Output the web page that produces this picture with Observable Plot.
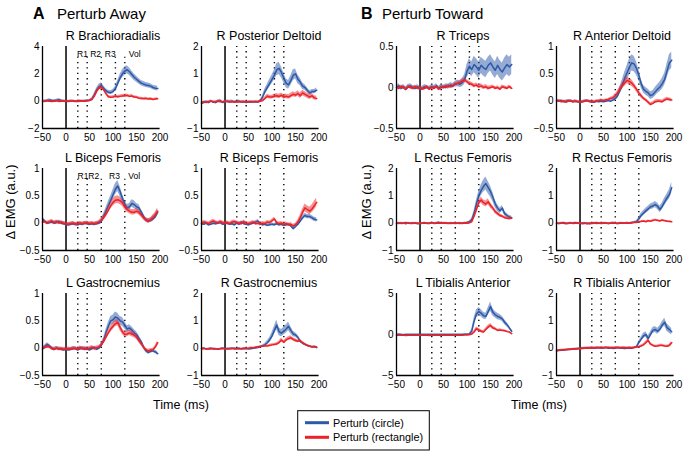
<!DOCTYPE html>
<html><head><meta charset="utf-8">
<script src="https://cdn.jsdelivr.net/npm/d3@7"></script>
<script src="https://cdn.jsdelivr.net/npm/@observablehq/plot@0.6"></script>
<style>
body{margin:0;background:#fff;font-family:"Liberation Sans",Arial,sans-serif;}
#chart{position:relative;width:686px;height:451px;overflow:hidden;background:#fff;}
#chart svg{position:absolute;}
</style></head><body><div id="chart"></div>
<script>
const timeMs = [-50,-45,-40,-35,-30,-25,-20,-15,-10,-5,0,5,10,15,20,25,30,35,40,45,50,55,60,65,70,75,80,85,90,95,100,105,110,115,120,125,130,135,140,145,150,155,160,165,170,175,180,185,190,195];
const muscles = ["R Brachioradialis","R Posterior Deltoid","R Triceps","R Anterior Deltoid","L Biceps Femoris","R Biceps Femoris","L Rectus Femoris","R Rectus Femoris","L Gastrocnemius","R Gastrocnemius","L Tibialis Anterior","R Tibialis Anterior"];
const yDomains = [[-2,4],[-1,2],[-0.5,0.5],[-0.5,1],[-0.5,1],[-0.5,1],[-1,2],[-1,2],[-0.5,1],[-1,2],[-5,5],[-1,2]];
const yTicks = [[-2,0,2,4],[-1,0,1,2],[-0.5,0,0.5],[-0.5,0,0.5,1],[-0.5,0,0.5,1],[-0.5,0,0.5,1],[-1,0,1,2],[-1,0,1,2],[-0.5,0,0.5,1],[-1,0,1,2],[-5,0,5],[-1,0,1,2]];
const xTicks = [-50,0,50,100,150,200];
const epochRow1 = [25,45,75,105,125];
const epochRow23 = [25,45,75,125];
const epochLabels = ["R1","R2","R3","Vol"];
const epochLabelX1 = [35,63,94,146];
const epochLabelX2 = [36,59,103,145];
const seriesNames = ["Perturb (circle)","Perturb (rectangle)"];
const seriesColors = ["#2c58a8","#ec2229"];

// R Brachioradialis
const brBlue = [0,0.02,0.05,0.08,0.05,0.03,0.06,0.1,0.04,0, -0.02,0,0.02,0,-0.02,0,0.03,0,0.02,0.03, 0.05,0.15,0.45,0.8,1.05,1.15,0.95,0.75,0.65,0.62, 0.7,0.9,1.3,1.7,2.0,2.2,2.3,2.15,1.95,1.75, 1.6,1.45,1.32,1.25,1.18,1.15,1.1,1.0,0.95,0.92];
const brBlueSem = [0.08,0.07,0.08,0.09,0.08,0.07,0.08,0.09,0.08,0.07, 0.06,0.06,0.07,0.06,0.06,0.07,0.06,0.06,0.07,0.07, 0.07,0.08,0.12,0.15,0.18,0.2,0.18,0.15,0.14,0.14, 0.15,0.18,0.22,0.25,0.28,0.3,0.3,0.28,0.26,0.24, 0.22,0.2,0.2,0.19,0.18,0.18,0.18,0.17,0.17,0.17];
const brRed = [0,-0.02,0.02,0,-0.03,0,0.02,-0.02,0,0.02, 0,-0.02,0,0.02,0,-0.02,0,0.02,0,0.03, 0.05,0.12,0.35,0.7,0.95,1.0,0.85,0.55,0.32,0.28, 0.3,0.35,0.32,0.35,0.38,0.4,0.42,0.35,0.38,0.3, 0.28,0.22,0.2,0.18,0.2,0.15,0.18,0.12,0.15,0.18];
const brRedSem = [0.06,0.06,0.07,0.06,0.06,0.07,0.06,0.06,0.07,0.06, 0.06,0.05,0.06,0.06,0.05,0.06,0.06,0.05,0.06,0.06, 0.06,0.07,0.09,0.11,0.12,0.12,0.11,0.1,0.09,0.09, 0.09,0.1,0.1,0.1,0.1,0.11,0.11,0.1,0.1,0.1, 0.09,0.09,0.09,0.08,0.08,0.08,0.08,0.08,0.08,0.08];
// R Posterior Deltoid
const pdBlue = [-0.08,-0.05,-0.02,-0.05,0,-0.03,-0.05,0,0.02,-0.05, -0.03,0,-0.02,0,-0.03,-0.02,0,-0.03,-0.02,-0.05, -0.03,-0.02,-0.03,-0.02,-0.03,0,0.15,0.35,0.5,0.65, 0.8,0.95,1.15,1.2,1.05,0.85,0.65,0.6,0.75,0.95, 1.0,0.8,0.7,0.55,0.5,0.4,0.3,0.35,0.35,0.4];
const pdBlueSem = [0.04,0.05,0.04,0.05,0.04,0.04,0.05,0.04,0.05,0.04, 0.04,0.04,0.05,0.04,0.04,0.05,0.04,0.04,0.05,0.04, 0.04,0.04,0.04,0.04,0.04,0.05,0.07,0.1,0.12,0.14, 0.16,0.18,0.22,0.22,0.2,0.18,0.16,0.16,0.18,0.2, 0.18,0.16,0.14,0.12,0.1,0.09,0.08,0.08,0.08,0.08];
const pdRed = [-0.05,-0.03,-0.05,-0.02,0,-0.03,-0.02,0,-0.02,-0.03, 0,-0.02,-0.03,-0.02,-0.03,-0.02,-0.03,-0.02,-0.02,-0.03, -0.02,-0.03,-0.02,-0.02,-0.02,0,0.02,0.1,0.18,0.15, 0.15,0.18,0.2,0.17,0.22,0.15,0.18,0.15,0.2,0.25, 0.22,0.28,0.2,0.3,0.25,0.2,0.15,0.2,0.12,0.1];
const pdRedSem = [0.03,0.03,0.04,0.03,0.03,0.04,0.03,0.03,0.04,0.03, 0.03,0.03,0.03,0.03,0.03,0.03,0.03,0.03,0.03,0.03, 0.03,0.03,0.03,0.03,0.03,0.04,0.05,0.06,0.07,0.07, 0.07,0.07,0.08,0.08,0.08,0.08,0.08,0.08,0.09,0.09, 0.09,0.1,0.1,0.1,0.1,0.09,0.09,0.09,0.08,0.08];
// R Triceps
const triBlue = [0,0.02,-0.01,0.01,-0.02,0.01,0.02,0,-0.01,0.01, -0.02,-0.01,0.01,0,-0.01,0.01,0,0.02,-0.01,0.01, 0,0.02,0.01,0.03,0.02,0.04,0.05,0.04,0.06,0.1, 0.2,0.26,0.22,0.28,0.25,0.21,0.27,0.24,0.22,0.27, 0.3,0.25,0.21,0.27,0.22,0.19,0.24,0.28,0.25,0.28];
const triBlueSem = [0.025,0.025,0.025,0.025,0.025,0.025,0.025,0.025,0.025,0.025, 0.025,0.025,0.025,0.025,0.025,0.025,0.025,0.025,0.025,0.025, 0.025,0.025,0.03,0.03,0.03,0.035,0.04,0.04,0.05,0.06, 0.08,0.09,0.09,0.1,0.1,0.1,0.1,0.1,0.1,0.1, 0.1,0.1,0.1,0.11,0.11,0.11,0.12,0.12,0.12,0.12];
const triRed = [0,-0.01,0.01,0,-0.02,0.01,0,-0.01,0.01,-0.01, 0,-0.02,-0.01,0.01,-0.02,0,-0.01,0.01,-0.02,0, 0.01,0,0.02,0.01,0.02,0.04,0.05,0.06,0.08,0.09, 0.07,0.05,0.04,0.02,0.03,0.01,0.02,0,0.01,-0.01, 0,0.01,-0.01,0,-0.02,0.01,0,-0.01,0.01,-0.01];
const triRedSem = [0.02,0.02,0.02,0.02,0.02,0.02,0.02,0.02,0.02,0.02, 0.02,0.02,0.02,0.02,0.02,0.02,0.02,0.02,0.02,0.02, 0.02,0.02,0.02,0.02,0.02,0.02,0.02,0.025,0.025,0.025, 0.025,0.025,0.025,0.025,0.025,0.025,0.025,0.025,0.025,0.025, 0.02,0.02,0.02,0.02,0.02,0.02,0.02,0.02,0.02,0.02];
// R Anterior Deltoid
const adBlue = [0.01,0,0.01,-0.01,0,0.01,0,-0.01,0,-0.01, -0.02,-0.01,0,0.01,-0.01,0,-0.02,0,-0.01,0, -0.01,0,0.01,0,0.02,0.05,0.1,0.2,0.3,0.42, 0.52,0.62,0.7,0.68,0.6,0.48,0.32,0.22,0.18,0.15, 0.1,0.12,0.17,0.22,0.26,0.32,0.4,0.55,0.7,0.75];
const adBlueSem = [0.02,0.02,0.02,0.02,0.02,0.02,0.02,0.02,0.02,0.02, 0.02,0.02,0.02,0.02,0.02,0.02,0.02,0.02,0.02,0.02, 0.02,0.02,0.02,0.02,0.03,0.04,0.05,0.07,0.09,0.11, 0.13,0.15,0.15,0.14,0.12,0.1,0.08,0.07,0.07,0.07, 0.07,0.07,0.08,0.08,0.09,0.1,0.11,0.13,0.15,0.15];
const adRed = [0,0.01,-0.01,0,-0.02,0,0.01,-0.01,0,-0.01, -0.02,-0.01,0,0.01,0,-0.02,-0.01,0,0.01,0.02, 0.01,0.02,0.03,0.05,0.06,0.1,0.15,0.22,0.28,0.33, 0.38,0.36,0.33,0.28,0.22,0.15,0.1,0.05,0.02,-0.02, -0.06,-0.04,-0.01,0,0,-0.01,0.02,0.04,0.03,0.02];
const adRedSem = [0.02,0.02,0.02,0.02,0.02,0.02,0.02,0.02,0.02,0.02, 0.02,0.02,0.02,0.02,0.02,0.02,0.02,0.02,0.02,0.02, 0.02,0.02,0.02,0.02,0.03,0.03,0.04,0.05,0.05,0.06, 0.06,0.06,0.06,0.05,0.05,0.04,0.04,0.03,0.03,0.03, 0.03,0.03,0.03,0.03,0.03,0.03,0.03,0.03,0.03,0.03];
// L Biceps Femoris
const lbfBlue = [0.08,0.03,0,0.01,0.02,0,0.01,0.03,0,-0.01, -0.02,-0.03,-0.02,-0.01,-0.02,-0.03,-0.01,-0.02,0,-0.01, -0.02,-0.01,-0.02,-0.01,0,0.03,0.12,0.22,0.32,0.42, 0.52,0.62,0.68,0.58,0.45,0.35,0.28,0.3,0.36,0.34, 0.3,0.28,0.2,0.12,0.06,0.04,0.05,0.08,0.12,0.2];
const lbfBlueSem = [0.04,0.03,0.03,0.03,0.03,0.03,0.03,0.03,0.03,0.03, 0.03,0.03,0.03,0.03,0.03,0.03,0.03,0.03,0.03,0.03, 0.03,0.03,0.03,0.03,0.03,0.04,0.05,0.06,0.07,0.08, 0.09,0.1,0.1,0.09,0.08,0.07,0.06,0.06,0.07,0.07, 0.06,0.06,0.05,0.05,0.04,0.04,0.04,0.05,0.05,0.05];
const lbfRed = [0.02,0.03,0,0.02,0.04,0.01,0.03,0,0.02,0, -0.01,-0.02,-0.01,0,-0.02,-0.01,0,-0.01,0,0.01, -0.01,0,-0.01,0,0.02,0.05,0.1,0.16,0.24,0.32, 0.38,0.42,0.43,0.41,0.37,0.3,0.25,0.22,0.2,0.2, 0.22,0.2,0.15,0.1,0.06,0.04,0.06,0.1,0.15,0.22];
const lbfRedSem = [0.03,0.03,0.03,0.03,0.03,0.03,0.03,0.03,0.03,0.03, 0.03,0.03,0.03,0.03,0.03,0.03,0.03,0.03,0.03,0.03, 0.03,0.03,0.03,0.03,0.03,0.04,0.05,0.05,0.06,0.06, 0.07,0.07,0.07,0.07,0.06,0.06,0.05,0.05,0.05,0.05, 0.05,0.05,0.04,0.04,0.04,0.04,0.04,0.05,0.05,0.06];
// R Biceps Femoris
const rbfBlue = [-0.01,-0.02,0,-0.03,-0.02,0,-0.01,0,0.01,-0.02, -0.01,0,-0.02,-0.01,-0.03,0,-0.02,0.02,-0.01,-0.02, -0.03,-0.01,0,0.02,0.04,-0.01,-0.03,-0.02,-0.04,-0.03, -0.02,-0.03,-0.01,-0.03,-0.02,-0.04,-0.03,-0.02,-0.05,-0.1, -0.06,-0.02,0.04,0.1,0.14,0.12,0.12,0.1,0.07,0.06];
const rbfBlueSem = [0.025,0.025,0.025,0.025,0.025,0.025,0.025,0.025,0.025,0.025, 0.025,0.025,0.025,0.025,0.025,0.025,0.025,0.025,0.025,0.025, 0.025,0.025,0.025,0.025,0.025,0.025,0.025,0.025,0.025,0.025, 0.025,0.025,0.025,0.025,0.025,0.025,0.025,0.025,0.025,0.025, 0.03,0.03,0.035,0.04,0.04,0.04,0.04,0.04,0.04,0.04];
const rbfRed = [0,0.02,0.01,-0.01,0.02,0.04,0.02,0,0.03,0.01, 0,0.01,-0.01,0.02,0.03,0.01,0,-0.01,0.03,0, -0.01,0,0.02,-0.01,0,-0.02,0,-0.01,0.02,0.01, 0.04,0.08,0.01,-0.01,0,-0.02,-0.01,-0.03,-0.02,-0.05, -0.03,0.02,0.1,0.2,0.28,0.25,0.22,0.26,0.32,0.38];
const rbfRedSem = [0.03,0.03,0.03,0.03,0.03,0.03,0.03,0.03,0.03,0.03, 0.03,0.03,0.03,0.03,0.03,0.03,0.03,0.03,0.03,0.03, 0.03,0.03,0.03,0.03,0.03,0.03,0.03,0.03,0.03,0.03, 0.03,0.03,0.03,0.03,0.03,0.03,0.03,0.03,0.03,0.03, 0.03,0.04,0.05,0.06,0.07,0.07,0.07,0.07,0.08,0.08];
// L Rectus Femoris
const lrfBlue = [0,0.01,-0.01,0,0.02,0,-0.01,0.01,0,-0.02, -0.01,0,0.01,0,-0.01,0.02,0,0.01,0.03,0, 0.01,0,-0.01,0.01,0,-0.01,0,0.01,-0.01,0.01, 0.02,0.05,0.12,0.35,0.7,1.0,1.2,1.35,1.45,1.3, 1.15,0.95,0.7,0.55,0.45,0.55,0.35,0.28,0.22,0.2];
const lrfBlueSem = [0.02,0.02,0.02,0.02,0.02,0.02,0.02,0.02,0.02,0.02, 0.02,0.02,0.02,0.02,0.02,0.02,0.02,0.02,0.02,0.02, 0.02,0.02,0.02,0.02,0.02,0.02,0.02,0.02,0.02,0.02, 0.02,0.03,0.05,0.1,0.14,0.17,0.2,0.22,0.24,0.22, 0.2,0.17,0.14,0.12,0.1,0.1,0.08,0.07,0.06,0.06];
const lrfRed = [0,-0.01,0.01,0,-0.02,0.01,0,-0.01,0.01,0, -0.01,0,0.01,-0.01,0,0.01,-0.01,0,0.01,0, 0,0.01,0,-0.01,0,0.01,0,-0.01,0,0.01, 0,0.01,0.05,0.25,0.5,0.75,0.85,0.75,0.7,0.78, 0.65,0.55,0.42,0.35,0.28,0.25,0.2,0.18,0.17,0.18];
const lrfRedSem = [0.02,0.02,0.02,0.02,0.02,0.02,0.02,0.02,0.02,0.02, 0.02,0.02,0.02,0.02,0.02,0.02,0.02,0.02,0.02,0.02, 0.02,0.02,0.02,0.02,0.02,0.02,0.02,0.02,0.02,0.02, 0.02,0.02,0.03,0.05,0.08,0.1,0.11,0.11,0.11,0.11, 0.1,0.09,0.08,0.07,0.06,0.05,0.05,0.05,0.05,0.05];
// R Rectus Femoris
const rrfBlue = [0.01,-0.01,0,0.02,0,-0.01,0.01,0,0.02,0, -0.01,0,0.01,-0.02,0,-0.01,0,0.02,0,-0.01, 0,0.01,-0.01,0,0.02,0,-0.01,0,0.01,0, 0.01,0,0.02,0.03,0.05,0.15,0.28,0.36,0.45,0.52, 0.6,0.63,0.68,0.62,0.5,0.62,0.78,0.92,1.05,1.3];
const rrfBlueSem = [0.02,0.02,0.02,0.02,0.02,0.02,0.02,0.02,0.02,0.02, 0.02,0.02,0.02,0.02,0.02,0.02,0.02,0.02,0.02,0.02, 0.02,0.02,0.02,0.02,0.02,0.02,0.02,0.02,0.02,0.02, 0.02,0.02,0.02,0.03,0.04,0.06,0.08,0.09,0.1,0.1, 0.1,0.11,0.11,0.12,0.12,0.13,0.14,0.15,0.17,0.2];
const rrfRed = [0,-0.01,0.01,0,-0.02,0,0.01,-0.01,0,0.01, 0,-0.02,-0.01,0,-0.02,0,0.01,-0.01,0,0, 0.01,0,-0.01,0,0.01,0,-0.01,0.01,0,0, 0.01,0,0.01,0.02,0.02,0.05,0.06,0.08,0.05,0.09, 0.07,0.1,0.12,0.1,0.08,0.11,0.09,0.07,0.06,0.05];
const rrfRedSem = [0.02,0.02,0.02,0.02,0.02,0.02,0.02,0.02,0.02,0.02, 0.02,0.02,0.02,0.02,0.02,0.02,0.02,0.02,0.02,0.02, 0.02,0.02,0.02,0.02,0.02,0.02,0.02,0.02,0.02,0.02, 0.02,0.02,0.02,0.02,0.02,0.03,0.03,0.03,0.03,0.03, 0.03,0.03,0.03,0.03,0.03,0.03,0.03,0.03,0.03,0.03];
// L Gastrocnemius
const lgBlue = [-0.02,0.03,0.07,0.04,0,-0.02,0,-0.01,-0.02,-0.03, -0.02,-0.03,-0.02,-0.01,0,-0.03,-0.01,0,-0.02,-0.01, -0.03,-0.01,0.01,-0.02,0,0.05,0.14,0.28,0.4,0.5, 0.52,0.57,0.55,0.5,0.48,0.42,0.35,0.37,0.33,0.28, 0.25,0.18,0.12,0.02,-0.05,-0.08,-0.06,-0.05,-0.07,-0.1];
const lgBlueSem = [0.03,0.03,0.03,0.03,0.03,0.03,0.03,0.03,0.03,0.03, 0.03,0.03,0.03,0.03,0.03,0.03,0.03,0.03,0.03,0.03, 0.03,0.03,0.03,0.03,0.03,0.04,0.05,0.06,0.07,0.08, 0.08,0.09,0.09,0.08,0.08,0.07,0.06,0.06,0.06,0.06, 0.05,0.05,0.04,0.04,0.03,0.03,0.03,0.03,0.03,0.03];
const lgRed = [0,0.01,0.03,0.02,-0.01,-0.02,0,-0.02,-0.01,-0.02, -0.02,-0.01,-0.02,0,-0.01,-0.02,0.01,-0.01,0,-0.02, 0,0.02,-0.01,0.01,0.02,0.06,0.12,0.2,0.28,0.35, 0.4,0.45,0.47,0.38,0.3,0.25,0.26,0.28,0.26,0.24, 0.2,0.14,0.08,0.02,-0.03,-0.05,-0.04,-0.03,0.02,0.1];
const lgRedSem = [0.03,0.03,0.03,0.03,0.03,0.03,0.03,0.03,0.03,0.03, 0.03,0.03,0.03,0.03,0.03,0.03,0.03,0.03,0.03,0.03, 0.03,0.03,0.03,0.03,0.03,0.03,0.04,0.05,0.05,0.06, 0.06,0.06,0.06,0.06,0.05,0.05,0.05,0.05,0.05,0.05, 0.04,0.04,0.04,0.03,0.03,0.03,0.03,0.03,0.03,0.04];
// R Gastrocnemius
const rgBlue = [-0.02,0,-0.03,-0.02,0,-0.03,-0.02,-0.04,-0.02,0, -0.03,-0.01,-0.02,0,-0.03,-0.02,0,-0.03,-0.02,-0.01, -0.03,-0.02,0,0.01,0.02,0.05,0.08,0.12,0.2,0.3, 0.45,0.65,0.85,0.6,0.55,0.62,0.7,0.8,0.65,0.52, 0.48,0.4,0.25,0.18,0.13,0.1,0.07,0.04,0.05,0.02];
const rgBlueSem = [0.02,0.02,0.02,0.02,0.02,0.02,0.02,0.02,0.02,0.02, 0.02,0.02,0.02,0.02,0.02,0.02,0.02,0.02,0.02,0.02, 0.02,0.02,0.02,0.02,0.02,0.03,0.04,0.05,0.07,0.09, 0.12,0.15,0.18,0.15,0.13,0.14,0.15,0.16,0.13,0.1, 0.08,0.07,0.05,0.04,0.03,0.03,0.03,0.02,0.02,0.02];
const rgRed = [-0.02,-0.01,-0.03,-0.02,-0.03,-0.01,-0.02,-0.03,-0.02,-0.01, -0.02,-0.03,-0.01,-0.02,0,-0.02,-0.03,-0.02,0,-0.01, 0,0.02,0.01,0.03,0.05,0.06,0.07,0.08,0.08,0.1, 0.12,0.13,0.15,0.2,0.3,0.22,0.3,0.35,0.38,0.32, 0.28,0.25,0.28,0.2,0.15,0.1,0.07,0.05,0.06,0.04];
const rgRedSem = [0.02,0.02,0.02,0.02,0.02,0.02,0.02,0.02,0.02,0.02, 0.02,0.02,0.02,0.02,0.02,0.02,0.02,0.02,0.02,0.02, 0.02,0.02,0.02,0.02,0.02,0.02,0.03,0.03,0.03,0.04, 0.04,0.04,0.05,0.05,0.07,0.05,0.06,0.07,0.07,0.06, 0.06,0.05,0.05,0.04,0.04,0.03,0.03,0.03,0.03,0.03];
// L Tibialis Anterior
const ltaBlue = [0,0.02,0,-0.02,0.01,0,-0.01,0.01,0,0, 0,0.01,-0.01,0,0.01,0,-0.01,0,0.01,0, 0,0,0.01,0,-0.01,0,0.01,0,0,0.02, 0.02,0.05,0.4,1.6,2.5,2.8,2.6,2.3,2.2,2.8, 3.4,2.7,2.4,2.2,2.1,1.9,1.5,1.2,0.8,0.4];
const ltaBlueSem = [0.06,0.06,0.06,0.06,0.06,0.06,0.06,0.06,0.06,0.06, 0.06,0.06,0.06,0.06,0.06,0.06,0.06,0.06,0.06,0.06, 0.06,0.06,0.06,0.06,0.06,0.06,0.06,0.06,0.06,0.06, 0.06,0.08,0.2,0.4,0.5,0.5,0.45,0.4,0.4,0.45, 0.55,0.45,0.4,0.4,0.35,0.3,0.3,0.25,0.2,0.15];
const ltaRed = [-0.1,-0.1,-0.08,-0.1,-0.12,-0.1,-0.08,-0.1,-0.1,-0.1, -0.1,-0.08,-0.1,-0.1,-0.12,-0.1,-0.1,-0.08,-0.1,-0.1, -0.1,-0.08,-0.1,-0.1,-0.1,-0.08,-0.1,-0.1,-0.08,-0.05, -0.05,-0.02,0.05,0.3,0.7,0.55,0.4,0.3,0.6,0.9, 1.1,0.8,0.7,0.5,0.55,0.5,0.45,0.35,0.3,0.1];
const ltaRedSem = [0.05,0.05,0.05,0.05,0.05,0.05,0.05,0.05,0.05,0.05, 0.05,0.05,0.05,0.05,0.05,0.05,0.05,0.05,0.05,0.05, 0.05,0.05,0.05,0.05,0.05,0.05,0.05,0.05,0.05,0.05, 0.05,0.05,0.08,0.15,0.2,0.2,0.18,0.15,0.18,0.22, 0.25,0.2,0.18,0.15,0.15,0.12,0.12,0.1,0.1,0.08];
// R Tibialis Anterior
const rtaBlue = [-0.1,-0.09,-0.08,-0.08,-0.06,-0.05,-0.05,-0.03,-0.03,-0.02, -0.01,0,0,0.01,0,0.02,0,0.01,0.02,0, 0.01,0.02,0,0.01,-0.01,0,0.02,0.01,0,-0.01, 0,0.01,0,0.02,0.05,0.2,0.32,0.45,0.5,0.35, 0.5,0.65,0.68,0.62,0.7,0.85,0.95,0.75,0.68,0.6];
const rtaBlueSem = [0.03,0.03,0.03,0.03,0.03,0.03,0.03,0.03,0.03,0.03, 0.03,0.03,0.03,0.03,0.03,0.03,0.03,0.03,0.03,0.03, 0.03,0.03,0.03,0.03,0.03,0.03,0.03,0.03,0.03,0.03, 0.03,0.03,0.03,0.03,0.03,0.05,0.08,0.1,0.1,0.1, 0.1,0.11,0.11,0.11,0.12,0.13,0.14,0.14,0.13,0.12];
const rtaRed = [-0.08,-0.08,-0.07,-0.06,-0.06,-0.05,-0.04,-0.04,-0.03,-0.02, -0.02,-0.01,0,0,0.01,0,0.01,0.02,0.01,0.02, 0.01,0.02,0.02,0.01,0.02,0.01,0.02,0.01,0.02,0.02, 0.01,0.02,0.01,0.02,0.03,0.05,0.08,0.12,0.2,0.28, 0.15,0.1,0.07,0.08,0.1,0.1,0.08,0.07,0.1,0.2];
const rtaRedSem = [0.03,0.03,0.03,0.03,0.03,0.03,0.03,0.03,0.03,0.03, 0.03,0.03,0.03,0.03,0.03,0.03,0.03,0.03,0.03,0.03, 0.03,0.03,0.03,0.03,0.03,0.03,0.03,0.03,0.03,0.03, 0.03,0.03,0.03,0.03,0.03,0.03,0.04,0.04,0.05,0.06, 0.05,0.04,0.04,0.04,0.04,0.04,0.04,0.04,0.04,0.05];

const panelSeries = [
  [brBlue, brBlueSem, brRed, brRedSem],
  [pdBlue, pdBlueSem, pdRed, pdRedSem],
  [triBlue, triBlueSem, triRed, triRedSem],
  [adBlue, adBlueSem, adRed, adRedSem],
  [lbfBlue, lbfBlueSem, lbfRed, lbfRedSem],
  [rbfBlue, rbfBlueSem, rbfRed, rbfRedSem],
  [lrfBlue, lrfBlueSem, lrfRed, lrfRedSem],
  [rrfBlue, rrfBlueSem, rrfRed, rrfRedSem],
  [lgBlue, lgBlueSem, lgRed, lgRedSem],
  [rgBlue, rgBlueSem, rgRed, rgRedSem],
  [ltaBlue, ltaBlueSem, ltaRed, ltaRedSem],
  [rtaBlue, rtaBlueSem, rtaRed, rtaRedSem]
];

// ---- layout ----
const FONT = '"Liberation Sans", Arial, Helvetica, sans-serif';
const colLeft = [41.7, 200.7, 396, 555.7];
const rowTop = [45.5, 168.3, 292.7];
const PW = 117.6, PH = 82;
const mL = 34, mR = 8, mT = 4, mB = 20;
const chart = document.getElementById("chart");
const fmt = d => String(d).replace("-", "\u2212");

muscles.forEach((name, i) => {
  const row = Math.floor(i / 4), col = i % 4;
  const [y0, y1] = yDomains[i];
  const [b, bs, r, rs] = panelSeries[i];
  const rows = timeMs.map((t, k) => ({t, b: b[k], bs: bs[k], r: r[k], rs: rs[k]}));
  const epochs = row === 0 ? epochRow1 : epochRow23;
  const labelled = i === 0 || i === 4;
  const labelX = i === 0 ? epochLabelX1 : epochLabelX2;
  const dotTop = labelled ? y0 + (y1 - y0) * 0.87 : y1;
  const marks = [
    Plot.ruleX(epochs, {y1: () => y0, y2: () => dotTop, stroke: "#000", strokeWidth: 1.4, strokeDasharray: "1.3,4.1"}),
    Plot.ruleX([0], {stroke: "#000", strokeWidth: 1.5}),
    Plot.areaY(rows, {x: "t", y1: d => d.b - d.bs, y2: d => d.b + d.bs, fill: seriesColors[0], fillOpacity: 0.5}),
    Plot.lineY(rows, {x: "t", y: "b", stroke: seriesColors[0], strokeWidth: 1.5}),
    Plot.areaY(rows, {x: "t", y1: d => d.r - d.rs, y2: d => d.r + d.rs, fill: seriesColors[1], fillOpacity: 0.5}),
    Plot.lineY(rows, {x: "t", y: "r", stroke: seriesColors[1], strokeWidth: 1.5}),
    Plot.ruleX([-50], {stroke: "#000", strokeWidth: 1.3}),
    Plot.ruleY([y0], {stroke: "#000", strokeWidth: 1.3})
  ];
  if (labelled) {
    const lab = epochLabels.map((s, k) => ({s, t: labelX[k]}));
    marks.push(Plot.text(lab, {x: "t", y: () => y1, text: "s", dy: 8, fontSize: 8.5, fill: "#000"}));
  }
  const svg = Plot.plot({
    width: PW + mL + mR, height: PH + mT + mB,
    marginLeft: mL, marginRight: mR, marginTop: mT, marginBottom: mB,
    x: {domain: [-50, 200], ticks: xTicks, tickSize: 0, tickPadding: 5, tickFormat: fmt, label: null},
    y: {domain: [y0, y1], ticks: yTicks[i], tickSize: 0, tickPadding: 3, tickFormat: fmt, label: null},
    style: {fontFamily: FONT, fontSize: "10px", background: "transparent", color: "#000"},
    marks
  });
  svg.style.left = (colLeft[col] - mL) + "px";
  svg.style.top = (rowTop[row] - mT) + "px";
  svg.style.overflow = "visible";
  chart.appendChild(svg);
});

// ---- overlay text ----
const ov = d3.select(chart).append("svg").attr("width", 686).attr("height", 451)
  .style("left", "0px").style("top", "0px").style("pointer-events", "none")
  .style("font-family", FONT);
const titleCx = [113, 269, 463, 622];
muscles.forEach((name, i) => {
  const row = Math.floor(i / 4), col = i % 4;
  ov.append("text").attr("x", titleCx[col]).attr("y", rowTop[row] - 6)
    .attr("text-anchor", "middle").attr("font-size", 12.5).text(name);
});
const panelHeads = [["A", "Perturb Away", 33, 57], ["B", "Perturb Toward", 361, 382]];
panelHeads.forEach(([L, T, xl, xt]) => {
  ov.append("text").attr("x", xl).attr("y", 18.5).attr("font-size", 16).attr("font-weight", "bold").text(L);
  ov.append("text").attr("x", xt).attr("y", 18.5).attr("font-size", 15).text(T);
});
[181, 539].forEach(cx => {
  ov.append("text").attr("x", cx).attr("y", 409).attr("text-anchor", "middle").attr("font-size", 12.5).text("Time (ms)");
});
[10, 366].forEach(cx => {
  ov.append("text").attr("transform", `translate(${cx},202) rotate(-90)`).attr("text-anchor", "middle")
    .attr("dominant-baseline", "central").attr("font-size", 13).text("Δ EMG (a.u.)");
});
// legend
const lg = ov.append("g");
lg.append("rect").attr("x", 297.7).attr("y", 410.7).attr("width", 131.6).attr("height", 39.3)
  .attr("fill", "#fff").attr("stroke", "#000").attr("stroke-width", 1);
seriesNames.forEach((s, k) => {
  const y = 422.7 + k * 14.6;
  lg.append("line").attr("x1", 305).attr("x2", 329).attr("y1", y).attr("y2", y)
    .attr("stroke", seriesColors[k]).attr("stroke-width", 3);
  lg.append("text").attr("x", 333).attr("y", y).attr("dominant-baseline", "central")
    .attr("font-size", 10.8).text(s);
});
</script></body></html>
